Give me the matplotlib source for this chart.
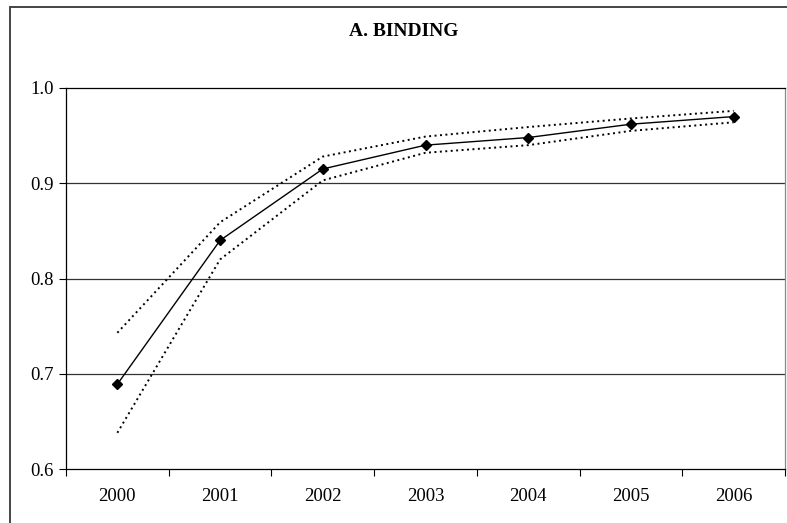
import matplotlib
matplotlib.use("Agg")
import matplotlib.pyplot as plt
from matplotlib.patches import Rectangle

years = ["2000", "2001", "2002", "2003", "2004", "2005", "2006"]
estimate = [0.689, 0.840, 0.915, 0.940, 0.948, 0.962, 0.970]
upper = [0.743, 0.859, 0.928, 0.949, 0.959, 0.968, 0.976]
lower = [0.638, 0.820, 0.903, 0.932, 0.940, 0.955, 0.964]
title = "A. BINDING"

plt.rcParams["font.family"] = ["Liberation Serif", "DejaVu Serif"]

fig = plt.figure(figsize=(7.87, 5.23), dpi=100)
fig.patch.set_facecolor("white")

# outer chart frame
fig.add_artist(Rectangle((10 / 787, -0.1), 1.2, 1 - 6.5 / 523 + 0.1,
                         transform=fig.transFigure, fill=False,
                         edgecolor="#444444", linewidth=1.4))

ax = fig.add_axes([66 / 787, 1 - 469 / 523, (785 - 66) / 787, (469 - 88) / 523])
x = list(range(len(years)))

ax.plot(x, upper, linestyle=(0, (1, 1.8)), color="black", linewidth=1.4)
ax.plot(x, lower, linestyle=(0, (1, 1.8)), color="black", linewidth=1.4)
ax.plot(x, estimate, color="black", linewidth=1.0, marker="D", markersize=5.5)

ax.set_xlim(-0.5, len(years) - 0.5)
ax.set_ylim(0.6, 1.0)
ax.set_yticks([0.6, 0.7, 0.8, 0.9, 1.0])
ax.set_yticklabels(["0.6", "0.7", "0.8", "0.9", "1.0"])
ax.set_xticks(x)
ax.set_xticklabels(years)
ax.set_xticks([i - 0.5 for i in range(len(years) + 1)], minor=True)
ax.tick_params(axis="x", which="major", length=0, pad=14, labelsize=13.5)
ax.tick_params(axis="x", which="minor", length=5, width=0.8, color="black", direction="out")
ax.tick_params(axis="y", length=5, width=0.8, pad=4, labelsize=13.5, direction="out")

for yv in [0.7, 0.8, 0.9]:
    ax.axhline(yv, color="#333333", linewidth=0.9, zorder=0)

for side in ["left", "bottom", "top"]:
    ax.spines[side].set_color("black")
    ax.spines[side].set_linewidth(0.9)
ax.spines["right"].set_color("#888888")
ax.spines["right"].set_linewidth(0.9)

fig.text(404 / 787, 1 - 31 / 523, title, ha="center", va="center",
         fontsize=14, fontweight="bold")

fig.savefig("out.png", dpi=100, facecolor="white")
